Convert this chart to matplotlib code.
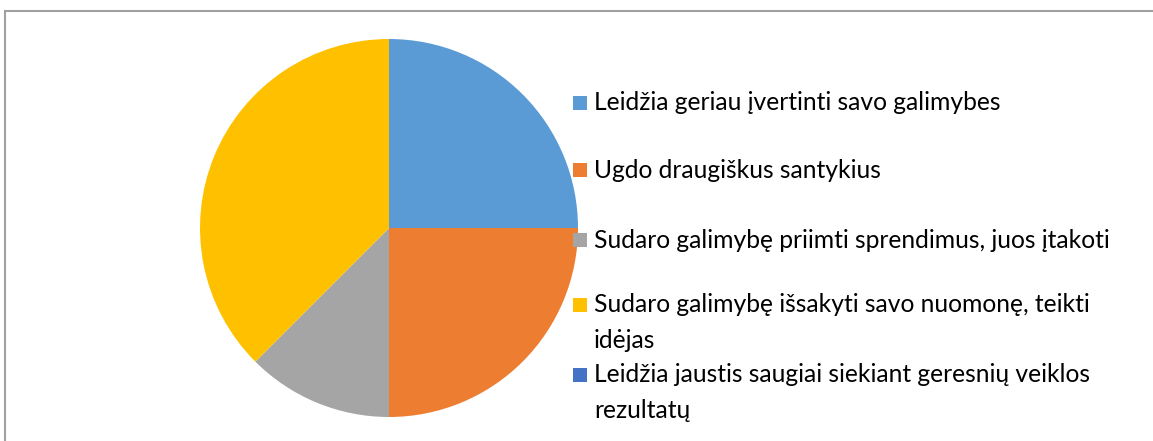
import matplotlib
matplotlib.use("Agg")
import matplotlib.pyplot as plt
from matplotlib.patches import Rectangle

labels = [
    "Leidžia geriau įvertinti savo galimybes",
    "Ugdo draugiškus santykius",
    "Sudaro galimybę priimti sprendimus, juos įtakoti",
    "Sudaro galimybę išsakyti savo nuomonę, teikti\nidėjas",
    "Leidžia jaustis saugiai siekiant geresnių veiklos\nrezultatų",
]
values = [2, 2, 1, 3, 0]
colors = ["#5B9BD5", "#ED7D31", "#A5A5A5", "#FFC000", "#4472C4"]

W, H = 1153, 441
fig = plt.figure(figsize=(W / 100, H / 100), dpi=100)

def px(x, y):
    return x / W, 1 - y / H

# outer frame
fig.patches.append(Rectangle(px(4.5, 460), (1160 - 4.5) / W, (460 - 10.5) / H,
                             transform=fig.transFigure, fill=False,
                             edgecolor="#A0A0A0", linewidth=1.5))

R = 189
cx, cy = 389, 228
ax = fig.add_axes([(cx - R) / W, (H - cy - R) / H, 2 * R / W, 2 * R / H])
ax.pie(values, colors=colors, startangle=90, counterclock=False,
       wedgeprops=dict(linewidth=0))
ax.set_xlim(-1, 1)
ax.set_ylim(-1, 1)
ax.set_aspect("auto")
ax.axis("off")

# legend
row_y = [103, 170, 240, 305, 375]
line_h = 35
for lab, col, y in zip(labels, colors, row_y):
    fig.patches.append(Rectangle(px(573, y + 7), 14 / W, 14 / H,
                                 transform=fig.transFigure, facecolor=col,
                                 edgecolor="none"))
    for i, line in enumerate(lab.split("\n")):
        x0, y0 = px(594, y + i * line_h)
        fig.text(x0, y0, line, fontsize=17.7, family="Lato", va="center",
                 ha="left", color="#000000")

fig.savefig("out.png", dpi=100)
